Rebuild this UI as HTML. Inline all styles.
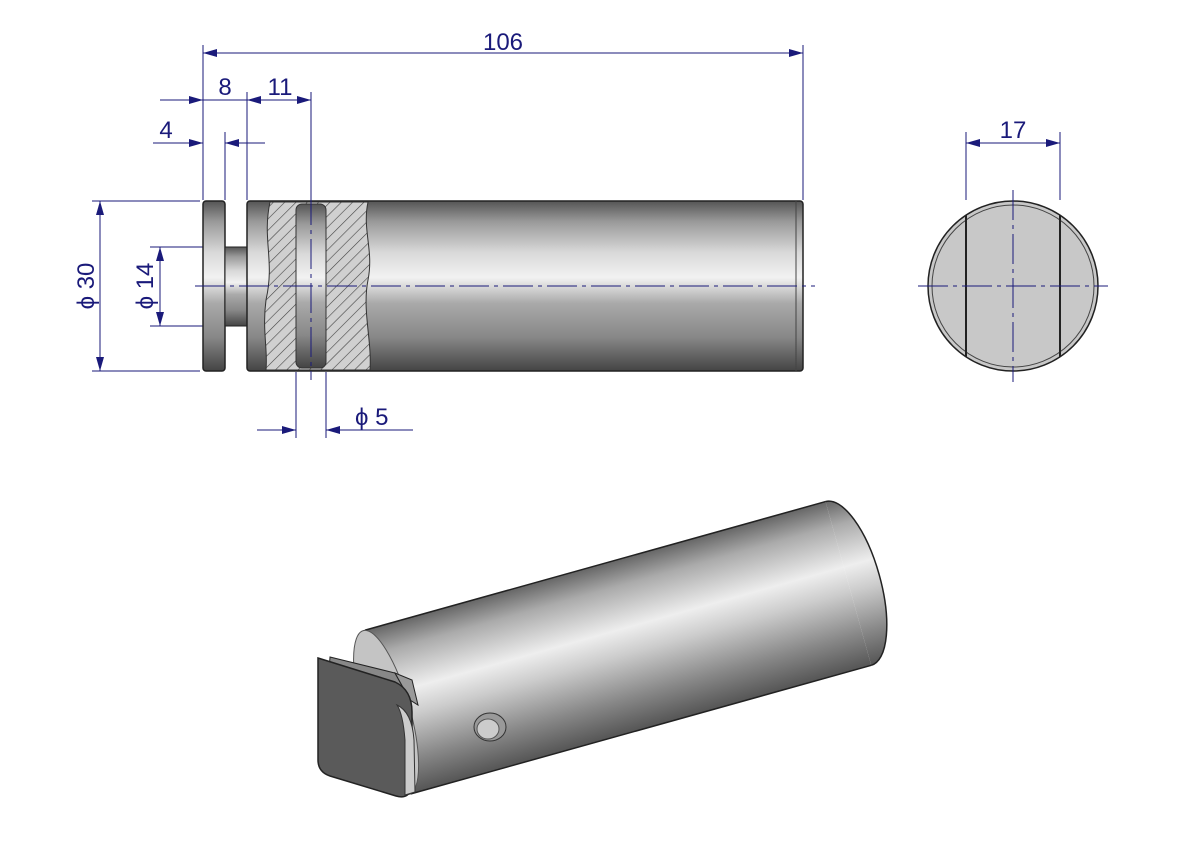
<!DOCTYPE html>
<html><head><meta charset="utf-8"><style>body{margin:0;background:#fff}svg{display:block}text{font-family:"Liberation Sans",sans-serif;fill:#1a1a7a;font-size:24px}</style></head><body>
<svg width="1191" height="842" viewBox="0 0 1191 842" xmlns="http://www.w3.org/2000/svg">
<defs>
<linearGradient id="cyl" x1="0" y1="0" x2="0" y2="1">
<stop offset="0" stop-color="#555"/><stop offset="0.12" stop-color="#999"/><stop offset="0.3" stop-color="#d8d8d8"/><stop offset="0.45" stop-color="#f2f2f2"/><stop offset="0.6" stop-color="#aaa"/><stop offset="0.8" stop-color="#888"/><stop offset="1" stop-color="#444"/></linearGradient>
<linearGradient id="iso" x1="0" y1="0" x2="0" y2="1">
<stop offset="0" stop-color="#666"/><stop offset="0.15" stop-color="#aaa"/><stop offset="0.4" stop-color="#eee"/><stop offset="0.55" stop-color="#ccc"/><stop offset="0.8" stop-color="#888"/><stop offset="1" stop-color="#555"/></linearGradient>
<pattern id="hatch" width="8" height="8" patternUnits="userSpaceOnUse" patternTransform="rotate(45)"><rect width="8" height="8" fill="#d0d0d0"/><line x1="0" y1="0" x2="0" y2="8" stroke="#444" stroke-width="1.2"/></pattern>
<marker id="ar" markerWidth="14" markerHeight="8" refX="14" refY="4" orient="auto" markerUnits="userSpaceOnUse"><path d="M0,0 L14,4 L0,8z" fill="#1a1a7a"/></marker>
</defs>
<g stroke="#1a1a7a" stroke-width="1" fill="none">
<line x1="203" y1="45" x2="203" y2="200"/><line x1="803" y1="45" x2="803" y2="200"/>
<line x1="247" y1="92" x2="247" y2="200"/><line x1="311" y1="92" x2="311" y2="195"/>
<line x1="225" y1="132" x2="225" y2="200"/>
<line x1="92" y1="201" x2="200" y2="201"/><line x1="92" y1="371" x2="200" y2="371"/>
<line x1="150" y1="247" x2="225" y2="247"/><line x1="150" y1="326" x2="225" y2="326"/>
<line x1="296" y1="372" x2="296" y2="438"/><line x1="326" y1="372" x2="326" y2="438"/>
<line x1="966" y1="132" x2="966" y2="200"/><line x1="1060" y1="132" x2="1060" y2="200"/>
<line x1="803" y1="53" x2="203" y2="53" marker-end="url(#ar)"/><line x1="210" y1="53" x2="803" y2="53" marker-end="url(#ar)"/>
<line x1="160" y1="100" x2="203" y2="100" marker-end="url(#ar)"/><line x1="280" y1="100" x2="247" y2="100" marker-end="url(#ar)"/>
<line x1="280" y1="100" x2="311" y2="100" marker-end="url(#ar)"/><line x1="203" y1="100" x2="247" y2="100"/>
<line x1="153" y1="143" x2="203" y2="143" marker-end="url(#ar)"/><line x1="265" y1="143" x2="225" y2="143" marker-end="url(#ar)"/>
<line x1="100" y1="286" x2="100" y2="201" marker-end="url(#ar)"/><line x1="100" y1="286" x2="100" y2="371" marker-end="url(#ar)"/>
<line x1="160" y1="286" x2="160" y2="247" marker-end="url(#ar)"/><line x1="160" y1="286" x2="160" y2="326" marker-end="url(#ar)"/>
<line x1="257" y1="430" x2="296" y2="430" marker-end="url(#ar)"/><line x1="413" y1="430" x2="326" y2="430" marker-end="url(#ar)"/>
<line x1="1013" y1="143" x2="966" y2="143" marker-end="url(#ar)"/><line x1="1013" y1="143" x2="1060" y2="143" marker-end="url(#ar)"/>
</g>
<rect x="203" y="201" width="22" height="170" rx="3" fill="url(#cyl)" stroke="#222" stroke-width="1.5"/>
<rect x="225" y="247" width="22" height="79" fill="url(#cyl)" stroke="#222" stroke-width="1"/>
<rect x="247" y="201" width="556" height="170" rx="3" fill="url(#cyl)" stroke="#222" stroke-width="1.5"/>
<path d="M270,202 C262,240 275,260 266,300 C262,330 268,350 266,370 L370,370 C372,340 362,310 368,280 C374,250 362,230 368,202 Z" fill="url(#hatch)" stroke="#333"/>
<rect x="296" y="204" width="30" height="164" rx="6" fill="url(#cyl)" stroke="#333"/>
<line x1="796" y1="201" x2="796" y2="371" stroke="#444"/>
<g stroke="#1a1a7a" stroke-width="1" stroke-dasharray="30,5,4,5"><line x1="195" y1="286" x2="815" y2="286"/><line x1="311" y1="195" x2="311" y2="380"/></g>
<circle cx="1013" cy="286" r="85" fill="#c8c8c8" stroke="#222" stroke-width="1.5"/>
<circle cx="1013" cy="286" r="81" fill="none" stroke="#444"/>
<line x1="966" y1="215" x2="966" y2="357" stroke="#222" stroke-width="2"/><line x1="1060" y1="215" x2="1060" y2="357" stroke="#222" stroke-width="2"/>
<g stroke="#1a1a7a" stroke-width="1" stroke-dasharray="30,5,4,5"><line x1="918" y1="286" x2="1108" y2="286"/><line x1="1013" y1="190" x2="1013" y2="382"/></g>
<text x="503" y="50" text-anchor="middle">106</text>
<text x="225" y="95" text-anchor="middle">8</text>
<text x="280" y="95" text-anchor="middle">11</text>
<text x="166" y="138" text-anchor="middle">4</text>
<text x="1013" y="138" text-anchor="middle">17</text>
<text transform="translate(94,286) rotate(-90)" text-anchor="middle">ϕ 30</text>
<text transform="translate(153,286) rotate(-90)" text-anchor="middle">ϕ 14</text>
<text x="355" y="425">ϕ 5</text>
<g transform="translate(388,712) rotate(-15.6)">
<rect x="0" y="-85" width="478" height="170" fill="url(#iso)"/>
<line x1="0" y1="-85" x2="478" y2="-85" stroke="#222" stroke-width="1.5"/>
<line x1="0" y1="85" x2="478" y2="85" stroke="#222" stroke-width="1.5"/>
<path d="M478,-85 A32,85 0 0 1 478,85" fill="url(#iso)" stroke="#222" stroke-width="1.5"/>
<path d="M0,-85 A24,85 0 0 0 0,85" fill="#bbb" stroke="#222"/>
<ellipse cx="-2" cy="0" rx="24" ry="85" fill="#c4c4c4" stroke="#555"/>
</g>
<path d="M330,657 L395,673 L410,700 L328,684 Z" fill="#888" stroke="#222"/>
<path d="M395,673 L410,700 L418,705 L412,680 Z" fill="#999" stroke="#222"/>
<path d="M318,658 L395,682 Q412,690 412,712 L412,785 Q410,800 396,796 L330,776 Q318,772 318,760 Z" fill="#5a5a5a" stroke="#222" stroke-width="1.5"/>
<path d="M397,705 Q412,712 414,740 L415,792 L405,795 L405,740 Q403,714 397,705Z" fill="#ccc" stroke="#333"/>
<ellipse cx="490" cy="727" rx="16" ry="14" fill="#999" stroke="#333"/>
<ellipse cx="488" cy="729" rx="11" ry="10" fill="#ccc" stroke="#555"/>
</svg>
</body></html>
